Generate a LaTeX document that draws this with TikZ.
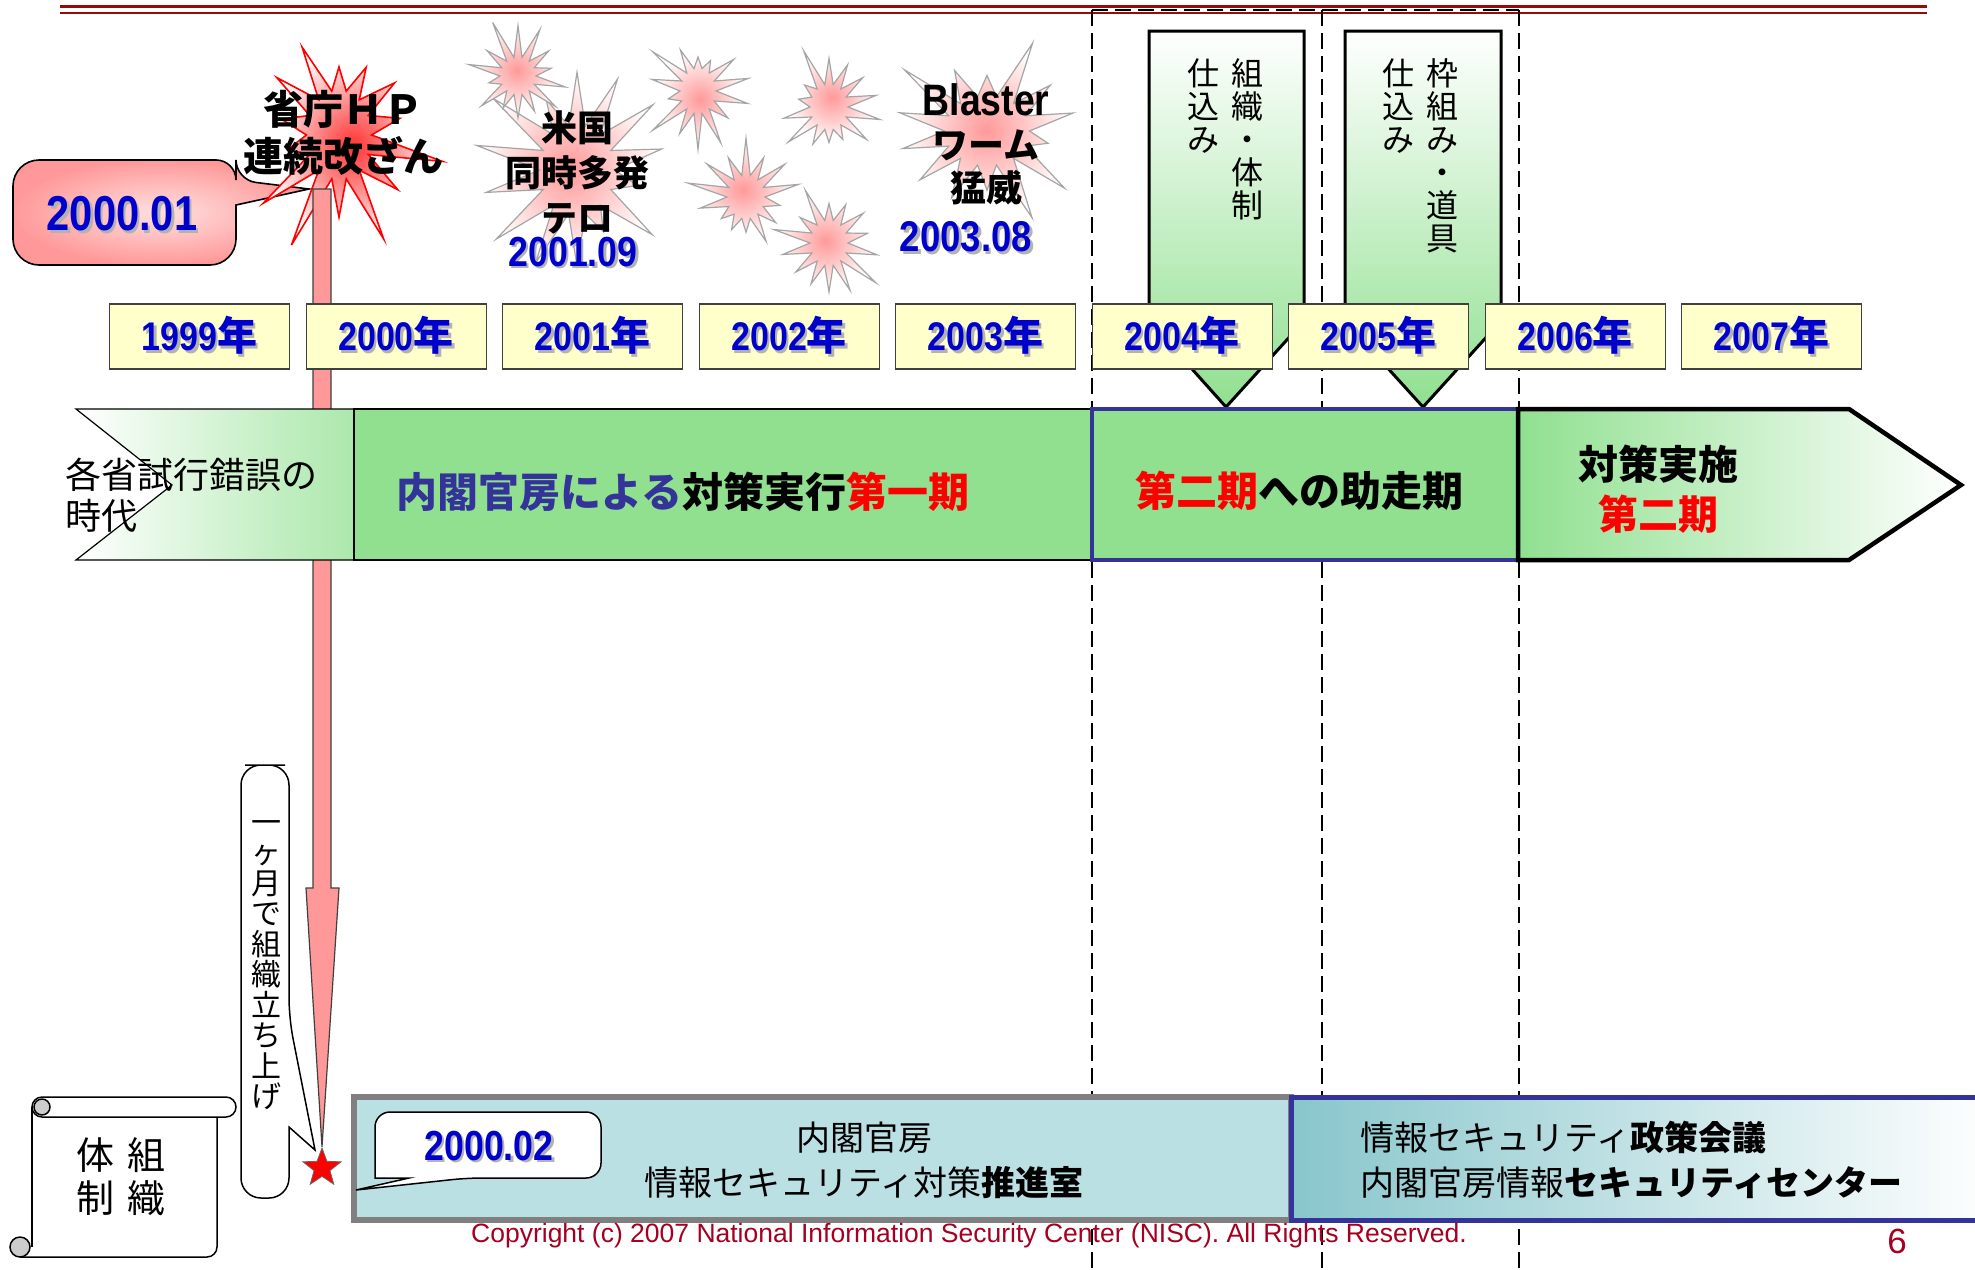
\documentclass[tikz,border=0pt]{standalone}
\usepackage{fontspec}
\setmainfont{Noto Sans CJK JP}
\newfontfamily\latinN[FakeStretch=0.85]{Liberation Sans}
\newfontfamily\latinR{Liberation Sans}
\usetikzlibrary{shapes.symbols,shapes.geometric}

\definecolor{bandgreen}{RGB}{144,224,144}
\definecolor{navyb}{RGB}{51,51,153}
\definecolor{numblue}{RGB}{0,0,204}
\definecolor{yellowbox}{RGB}{255,255,204}
\definecolor{pinkarrow}{RGB}{255,153,153}
\definecolor{paleblue}{RGB}{187,224,227}
\definecolor{tealgrad}{RGB}{136,198,204}
\definecolor{rulered}{RGB}{150,10,10}
\definecolor{copyred}{RGB}{165,0,33}
\definecolor{burstgray}{RGB}{165,165,165}

% text with a soft grey drop shadow
\newcommand\shadowed[1]{\leavevmode\rlap{\kern2.5pt\raisebox{-2.5pt}{\textcolor{black!30}{#1}}}#1}
\newcommand\fsz[2]{\fontsize{#1}{#2}\selectfont}
\newcommand\numfont[1]{\latinN\bfseries\fontsize{#1}{#1}\selectfont}

\begin{document}
\begin{tikzpicture}[x=1pt,y=-1pt,
  every node/.style={inner sep=0pt},
  dashline/.style={black, line width=1.6pt, dash pattern=on 16pt off 7pt},
  burst/.style={starburst, starburst points=14, draw=burstgray, line width=1.2pt,
                inner color=pinkarrow, outer color=white, inner sep=0pt},
  redburst/.style={starburst, starburst points=14, draw=red, line width=1.6pt,
                inner color=red!80, outer color=white, inner sep=0pt},
  numtext/.style={text=numblue},
  yearbox/.style={draw=black!75, line width=1.2pt, fill=yellowbox, minimum width=180pt,
                  minimum height=65pt, text=numblue, font=\fsz{40}{44}\bfseries},
  gcallout/.style={draw=black, line width=3pt, top color=white, bottom color=bandgreen},
  vtext/.style={font=\fsz{32}{33}, align=center},
  callout/.style={draw=black, line width=1.5pt, fill=white},
  bandline/.style={draw=black, line width=1.2pt}]

\useasboundingbox (0,0) rectangle (1975,1269);
\fill[white] (0,0) rectangle (1975,1269);

% header rules
\draw[rulered, line width=3pt] (60,6) -- (1927,6);
\draw[rulered, line width=2pt] (60,12.5) -- (1927,12.5);

% period guides
\draw[dashline] (1092,10) -- (1519,10);
\draw[dashline] (1092,10) -- (1092,1269);
\draw[dashline] (1322,10) -- (1322,1269);
\draw[dashline] (1519,10) -- (1519,1269);

% 2000.01 balloon
\draw[draw=black, line width=1.6pt, inner color=pinkarrow!30, outer color=pinkarrow]
  (124,160) [rounded corners=20pt] -- (236,160) -- (236,180) [sharp corners] -- (309,189)
  -- (236,205) [rounded corners=26pt] -- (236,265) -- (13,265) -- (13,160) -- cycle;
\node[numtext, font=\numfont{49}] (d0001) at (122,215) {\shadowed{2000.01}};

% incident bursts
\node[burst, minimum width=235pt, minimum height=250pt, starburst point height=80pt, random starburst=41] (busa) at (577,170) {};
\node[burst, minimum width=120pt, minimum height=122pt, starburst point height=42pt, random starburst=11] (b1) at (518,76) {};
\node[burst, minimum width=120pt, minimum height=130pt, starburst point height=42pt, random starburst=23] (b2) at (698,91) {};
\node[burst, minimum width=122pt, minimum height=130pt, starburst point height=42pt, random starburst=5] (b3) at (829,107) {};
\node[burst, minimum width=122pt, minimum height=128pt, starburst point height=42pt, random starburst=17] (b4) at (746,197) {};
\node[burst, minimum width=122pt, minimum height=130pt, starburst point height=42pt, random starburst=29] (b5) at (829,243) {};
\node[burst, minimum width=215pt, minimum height=200pt, starburst point height=65pt, random starburst=3] (bworm) at (987,131) {};
\node[redburst, minimum width=225pt, minimum height=250pt, starburst point height=80pt, random starburst=13] (bhack) at (339,135) {};

\node[font=\fsz{40}{47}\bfseries, align=center] (hack) at (343,133) {省庁ＨＰ\\連続改ざん};
\node[font=\fsz{36}{45}\bfseries, align=center] (usa) at (577,172) {米国\\同時多発\\テロ};
\node[numtext, font=\numfont{42}] (d0109) at (573,253) {\shadowed{2001.09}};
\node[font=\fsz{36}{43}\bfseries, align=center] (worm) at (986,144) {{\latinN\fsz{44}{43}Blaster}\\ワーム\\猛威};
\node[numtext, font=\numfont{43}] (d0308) at (966,238) {\shadowed{2003.08}};

% launch marker and the one-month arrow
\node[star, star points=5, star point ratio=2.4, fill=red, draw=black!60, line width=0.8pt,
      minimum size=40pt] (launch) at (322,1168) {};
\coordinate (arrowtop) at (322,189);
\draw[draw=black!75, line width=1.2pt, fill=pinkarrow]
  ([xshift=-9pt]arrowtop) -- ([xshift=9pt]arrowtop) -- (331,888) -- (339,888)
  -- (launch.north) -- (306,888) -- (313,888) -- cycle;

% preparation callouts
\draw[gcallout] (1149,31) -- (1304,31) -- (1304,321) -- (1226,407) -- (1149,321) -- cycle;
\draw[gcallout] (1345,31) -- (1501,31) -- (1501,321) -- (1423,407) -- (1345,321) -- cycle;
\node[vtext] (p1r) at (1247,139) {組\\織\\・\\体\\制};
\node[vtext] (p1l) at (1203,106) {仕\\込\\み};
\node[vtext] (p2r) at (1442,156) {枠\\組\\み\\・\\道\\具};
\node[vtext] (p2l) at (1398,106) {仕\\込\\み};

% year scale
\foreach \yr [count=\i from 0] in {1999,...,2007}
  \node[yearbox] (y\yr) at ({199.6+196.5*\i},336.5) {\shadowed{{\latinN\bfseries\yr}年}};

% period band
\draw[bandline, left color=white, right color=bandgreen!75] (76,409) -- (354,409) -- (354,560) -- (76,560) -- (172,485) -- cycle;
\draw[bandline, fill=bandgreen] (354,409) rectangle (1092,560);
\draw[navyb, line width=4pt, fill=bandgreen] (1092,409) rectangle (1518,560);
\draw[black, line width=4.5pt, left color=bandgreen, middle color=bandgreen!60, right color=white]
  (1518,409) -- (1849,409) -- (1961,485) -- (1849,560) -- (1518,560) -- cycle;

\node[font=\fsz{36}{41}, align=left, anchor=west] (era0) at (65,495.5) {各省試行錯誤の\\時代};
\node[font=\fsz{41}{44}\bfseries] (era1) at (683,492) {\textcolor{navyb}{内閣官房による}対策実行\textcolor{red}{第一期}};
\node[font=\fsz{41}{44}\bfseries] (era2) at (1299,491) {\textcolor{red}{第二期}への助走期};
\node[font=\fsz{40}{50}\bfseries, align=center] (era3) at (1658,489) {対策実施\\\textcolor{red}{第二期}};

% one-month callout
\draw[callout] (265,765) [rounded corners=20pt] -- (289,765) -- (289,1018) [sharp corners]
  -- (315,1150) -- (289,1127) [rounded corners=20pt] -- (289,1198) -- (241,1198) -- (241,765) -- cycle;
\node[font=\fsz{30}{30.5}, align=center] (month) at (266,965) {一\\ヶ\\月\\で\\組\\織\\立\\ち\\上\\げ};

% organisation scroll
\fill[white] (32,1107) rectangle (217,1257);
\draw[black, line width=1.5pt] (32,1107) -- (32,1247);
\draw[black, line width=1.5pt, rounded corners=10pt] (20,1257) -- (217,1257) -- (217,1112);
\draw[black, line width=1.5pt, fill=black!20] (20,1247) circle (10pt);
\draw[black, line width=1.5pt, fill=white, rounded corners=10pt] (32,1097) rectangle (236,1117);
\draw[black, line width=1.5pt, fill=black!20] (42,1107) circle (8pt);
\node[font=\fsz{38}{43}, align=center] (orgr) at (146,1177) {組\\織};
\node[font=\fsz{38}{43}, align=center] (orgl) at (95,1177) {体\\制};

% organisation boxes
\draw[draw=black!50, line width=6pt, fill=paleblue] (354,1097) rectangle (1291,1220);
\draw[navyb, line width=5pt, left color=tealgrad, right color=white] (1291,1097) rectangle (1995,1220);
\node[font=\fsz{34}{45}, align=center] (office) at (864,1160) {内閣官房\\情報セキュリティ対策\textbf{推進室}};
\node[font=\fsz{34}{45}, align=left, anchor=west] (nisc) at (1360,1160) {情報セキュリティ\textbf{政策会議}\\内閣官房情報\textbf{セキュリティセンター}};

% 2000.02 balloon
\draw[callout] (488,1112) [rounded corners=15pt] -- (601,1112) -- (601,1178) -- (467,1178) [sharp corners]
  -- (356,1190) -- (409,1178) -- (375,1178) [rounded corners=15pt] -- (375,1112) -- cycle;
\node[numtext, font=\numfont{42}] (d0002) at (489,1147) {\shadowed{2000.02}};

% footer
\node[text=copyred, font=\latinR\fsz{26.5}{28}] (copy) at (969,1236) {Copyright (c) 2007 National Information Security Center (NISC). All Rights Reserved.};
\node[text=copyred, font=\latinR\fsz{35}{36}] (page) at (1897,1241) {6};
\end{tikzpicture}
\end{document}
